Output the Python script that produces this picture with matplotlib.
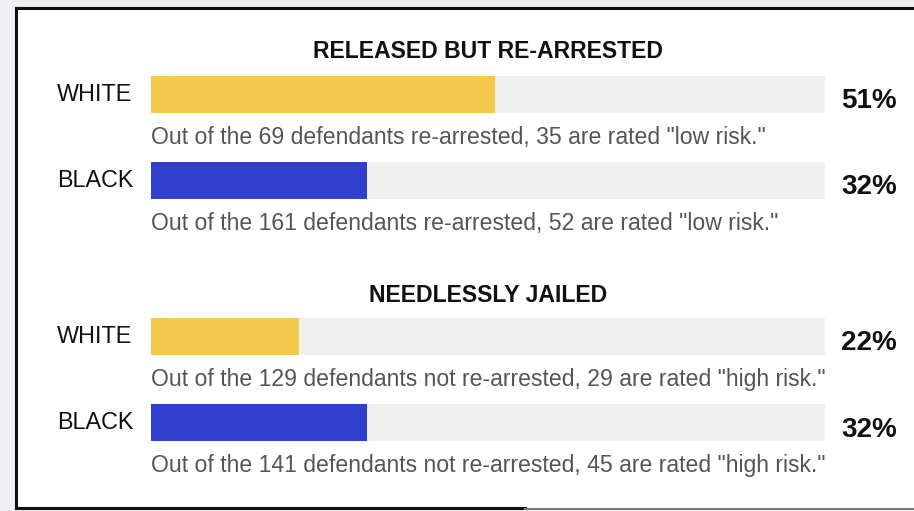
import matplotlib
matplotlib.use("Agg")
import matplotlib.pyplot as plt
from matplotlib.patches import Rectangle
from matplotlib.lines import Line2D

plt.rcParams['font.family'] = ['Liberation Sans', 'DejaVu Sans']

# data
sections = ["RELEASED BUT RE-ARRESTED", "NEEDLESSLY JAILED"]
groups = ["WHITE", "BLACK", "WHITE", "BLACK"]
values = [51, 32, 22, 32]
notes = [
    'Out of the 69 defendants re-arrested, 35 are rated "low risk."',
    'Out of the 161 defendants re-arrested, 52 are rated "low risk."',
    'Out of the 129 defendants not re-arrested, 29 are rated "high risk."',
    'Out of the 141 defendants not re-arrested, 45 are rated "high risk."',
]
colors = ["#f2c94a", "#3040cc", "#f2c94a", "#3040cc"]

W, H = 914, 511
fig = plt.figure(figsize=(W / 100, H / 100), dpi=100)
fig.patch.set_facecolor("#eef0f4")

def fx(px):
    return px / W

def fy(py):
    return 1 - py / H

# white panel + frame
fig.add_artist(Rectangle((fx(16), fy(508)), 1, fy(8) - fy(508),
                         transform=fig.transFigure, facecolor="white", edgecolor="none", zorder=0))
fig.add_artist(Line2D([fx(16), 1], [fy(8), fy(8)], transform=fig.transFigure, color="#111111", lw=2.2))
fig.add_artist(Line2D([fx(16), fx(16)], [fy(8), fy(508)], transform=fig.transFigure, color="#111111", lw=2.2))
fig.add_artist(Line2D([fx(16), fx(525)], [fy(508), fy(508)], transform=fig.transFigure, color="#111111", lw=2.2))
fig.add_artist(Line2D([fx(525), 1], [fy(509), fy(509)], transform=fig.transFigure, color="#777777", lw=1.5))

# bar axes: x in percent, y in pixel rows
x0, x1 = 151, 825
ax = fig.add_axes([fx(x0), 0, fx(x1) - fx(x0), 1])
ax.set_xlim(0, 100)
ax.set_ylim(H, 0)
ax.axis("off")
ax.patch.set_alpha(0)

bar_y = [94.5, 180.5, 336.5, 422.5]
bar_h = 37
ax.barh(bar_y, [100] * 4, height=bar_h, color="#efefef", left=0)
ax.barh(bar_y, values, height=bar_h, color=colors)

title_y = [52, 295]
for t, y in zip(sections, title_y):
    fig.text(fx((x0 + x1) / 2), fy(y), t, ha="center", va="center",
             fontsize=16.6, fontweight="bold", color="#111111")

for g, v, n, y in zip(groups, values, notes, bar_y):
    fig.text(fx(57), fy(y), g, ha="left", va="center", fontsize=16.8, color="#111111")
    fig.text(fx(897), fy(y + 7), f"{v}%", ha="right", va="center",
             fontsize=20, fontweight="bold", color="#111111")
    fig.text(fx(151), fy(y + 43), n, ha="left", va="center", fontsize=16.6, color="#555555")

fig.savefig("out.png", dpi=100, facecolor=fig.get_facecolor())
